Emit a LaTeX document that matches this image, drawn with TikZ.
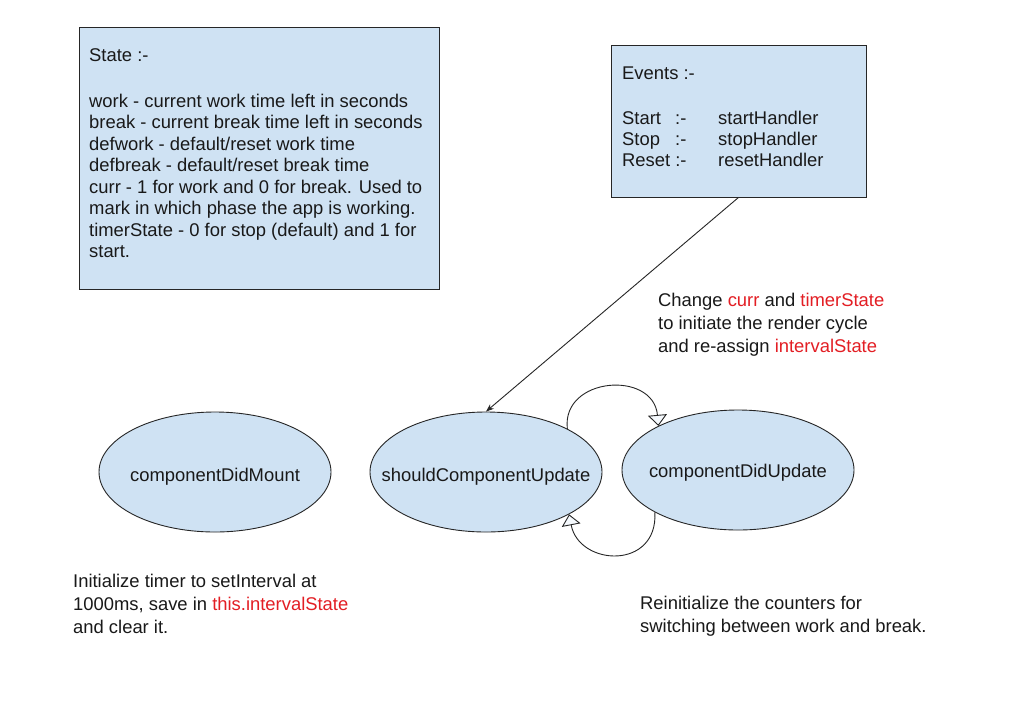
\documentclass[tikz,border=0pt]{standalone}
\usepackage{fontspec}
\setmainfont{Liberation Sans}
\usetikzlibrary{shapes.geometric,arrows.meta}
\definecolor{boxblue}{HTML}{CFE2F3}
\definecolor{hl}{HTML}{E31E24}
\newcommand{\zw}[1]{\makebox[0pt]{#1}}
\begin{document}
\begin{tikzpicture}[x=1pt,y=-1pt,
  every node/.style={font=\fontsize{18.4}{22}\selectfont},
  txt/.style={anchor=base west,inner sep=0pt,text=black!90},
  panel/.style={draw=black!85,fill=boxblue,line width=0.9pt,inner sep=0pt},
  phase/.style={ellipse,draw=black!85,fill=boxblue,line width=0.9pt,minimum width=232pt,minimum height=120pt,inner sep=0pt,text=black!90,text height=19pt,text depth=0pt},
  link/.style={draw=black!85,line width=0.9pt},
  hollow/.style={-{Triangle[length=11pt,width=19pt,fill=white!80!boxblue]}},
  solidtip/.style={-{Stealth[length=8pt,width=6pt]}}]
\useasboundingbox[fill=white] (0,0) rectangle (1011,721);

% panels
\node[panel,minimum width=360pt,minimum height=262pt] (statebox) at (259,158) {};
\node[panel,minimum width=255pt,minimum height=152pt] (evbox) at (738.5,121) {};

% state text
\node[txt] (s0) at (89,61) {State :-};
\node[txt] (s1) at (89,107) {work - current work time left in seconds};
\node[txt] (s2) at (89,128.5) {break - current break time left in seconds};
\node[txt] (s3) at (89,150) {defwork - default/reset work time};
\node[txt] (s4) at (89,171.5) {defbreak - default/reset break time};
\node[txt] (s5) at (89,193) {curr - 1 for work and 0 for break. Used to};
\node[txt] (s6) at (89,214.5) {mark in which phase the app is working.};
\node[txt] (s7) at (89,236) {timerState - 0 for stop (default) and 1 for};
\node[txt] (s8) at (89,257.5) {start.};

% events text
\node[txt] (e0) at (622,79) {Events :-};
\node[txt] (e1) at (622,124) {Start};
\node[txt] (e1c) at (675,124) {:-};
\node[txt] (e1h) at (718,124) {startHandler};
\node[txt] (e2) at (622,145) {Stop};
\node[txt] (e2c) at (675,145) {:-};
\node[txt] (e2h) at (718,145) {stopHandler};
\node[txt] (e3) at (622,166) {Reset :-};
\node[txt] (e3h) at (718,166) {resetHandler};

% lifecycle ellipses
\node[phase] (cdm) at (215,472) {\zw{componentDidMount}};
\node[phase] (scu) at (486,472) {\zw{shouldComponentUpdate}};
\node[phase,text height=15pt] (cdu) at (738,470) {\zw{componentDidUpdate}};

% connectors
\draw[link,solidtip] (evbox.south) -- (scu.north);
\draw[link,hollow] (scu.28) .. controls +(-6,-52) and +(-5,-56) .. (cdu.151);
\draw[link,hollow] (cdu.207) .. controls +(3,58) and +(10,52) .. (scu.-27);

% notes
\node[txt] (c1) at (658,306.5) {Change \textcolor{hl}{curr} and \textcolor{hl}{timerState}};
\node[txt] (c2) at (658,329.5) {to initiate the render cycle};
\node[txt] (c3) at (658,352.5) {and re-assign \textcolor{hl}{intervalState}};

\node[txt] (i1) at (73,587) {Initialize timer to setInterval at};
\node[txt] (i2) at (73,610) {1000ms, save in \textcolor{hl}{this.intervalState}};
\node[txt] (i3) at (73,633) {and clear it.};

\node[txt] (r1) at (640,609) {Reinitialize the counters for};
\node[txt] (r2) at (640,632) {switching between work and break.};
\end{tikzpicture}
\end{document}
